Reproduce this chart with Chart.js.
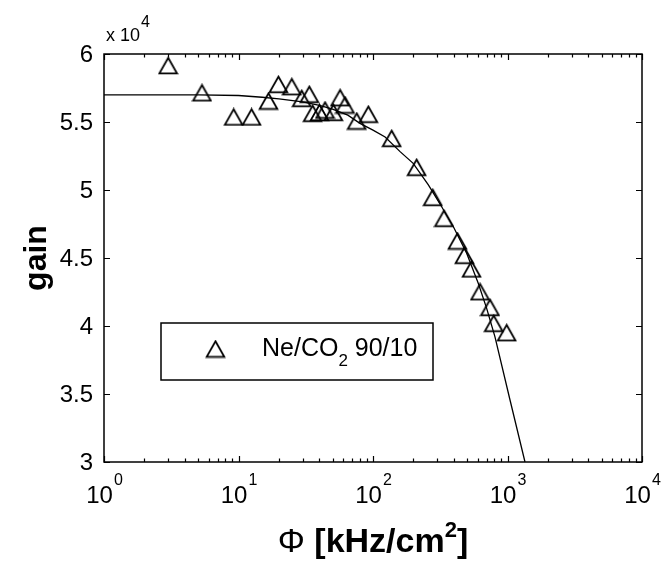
<!DOCTYPE html>
<html>
<head>
<meta charset="utf-8">
<script src="https://cdn.jsdelivr.net/npm/chart.js@4"></script>
<style>
  html, body { margin: 0; padding: 0; background: #fff; }
  #wrap { width: 663px; height: 564px; position: relative; }
</style>
</head>
<body>
<div id="wrap"><canvas id="gainChart" width="663" height="564"></canvas></div>
<script>
// Data (gain in units of 1e4, flux in kHz/cm2)
const markerPhi  = [3.0, 5.35, 9.2, 12.5, 16.7, 19.8, 24.9, 29.5, 33.6, 35.6, 40, 44, 50.7, 56.9, 61.9, 75.7, 92.3,
                    137.7, 211, 278, 337, 424, 478, 540, 625, 741, 790, 986];
const markerGain = [5.915, 5.715, 5.537, 5.537, 5.654, 5.777, 5.760, 5.674, 5.704, 5.564, 5.57, 5.588, 5.571, 5.679, 5.625, 5.507, 5.557,
                    5.380, 5.167, 4.946, 4.792, 4.625, 4.52, 4.42, 4.252, 4.137, 4.02, 3.951];
const curvePhi  = [1, 5, 10, 15, 20, 30, 40, 50, 65, 80, 100, 123, 159, 199, 258, 324, 396, 497, 606, 700, 807, 1044, 1349];
const curveGain = [5.700, 5.699, 5.695, 5.682, 5.670, 5.648, 5.622, 5.595, 5.55, 5.49, 5.44, 5.39, 5.282, 5.196, 5.037, 4.877, 4.730, 4.535, 4.314, 4.13, 3.92, 3.456, 3.0];

const xTickValues = [1, 10, 100, 1000, 10000];
const xTickExps   = ['0', '1', '2', '3', '4'];
const yTickValues = [3, 3.5, 4, 4.5, 5, 5.5, 6];
const yTickLabels = ['3', '3.5', '4', '4.5', '5', '5.5', '6'];
const legendLabel = 'Ne/CO';

const FONT = '"Liberation Sans", Arial, Helvetica, sans-serif';

// hollow triangle marker, centred on its bounding box like matlab '^'
const tri = document.createElement('canvas');
tri.width = 21; tri.height = 19;
(function () {
    const c = tri.getContext('2d');
    c.strokeStyle = '#000';
    c.lineWidth = 1.8;
    c.lineJoin = 'miter';
    c.beginPath();
    c.moveTo(10.5, 1.8);
    c.lineTo(19.3, 17.3);
    c.lineTo(1.7, 17.3);
    c.closePath();
    c.stroke();
})();

// axes box, inward ticks and all the text
const matlabAxes = {
    id: 'matlabAxes',
    afterDraw(chart) {
        const { ctx, chartArea: a, scales: { x, y } } = chart;
        ctx.save();
        ctx.strokeStyle = '#000';
        ctx.fillStyle = '#000';

        // frame
        ctx.lineWidth = 1.5;
        ctx.strokeRect(a.left, a.top, a.right - a.left, a.bottom - a.top);

        // x ticks (major + minor), bottom and top
        ctx.lineWidth = 1.2;
        ctx.beginPath();
        for (let d = 0; d < xTickValues.length; d++) {
            const base = xTickValues[d];
            for (let m = 1; m <= 9; m++) {
                const v = base * m;
                if (v > x.max) break;
                const px = Math.round(x.getPixelForValue(v)) + 0.5;
                const len = m === 1 ? 6 : 3.5;
                ctx.moveTo(px, a.bottom); ctx.lineTo(px, a.bottom - len);
                ctx.moveTo(px, a.top); ctx.lineTo(px, a.top + len);
            }
        }
        // y ticks, left and right
        yTickValues.forEach(v => {
            const py = Math.round(y.getPixelForValue(v)) + 0.5;
            ctx.moveTo(a.left, py); ctx.lineTo(a.left + 6, py);
            ctx.moveTo(a.right, py); ctx.lineTo(a.right - 6, py);
        });
        ctx.stroke();

        // y tick labels
        ctx.font = '24px ' + FONT;
        ctx.textAlign = 'right';
        ctx.textBaseline = 'middle';
        yTickValues.forEach((v, i) => {
            ctx.fillText(yTickLabels[i], a.left - 11, y.getPixelForValue(v) + 1);
        });

        // x tick labels 10^n
        ctx.textBaseline = 'alphabetic';
        ctx.textAlign = 'left';
        xTickValues.forEach((v, i) => {
            const px = x.getPixelForValue(v);
            ctx.font = '24px ' + FONT;
            const wBase = ctx.measureText('10').width;
            ctx.font = '16px ' + FONT;
            const wExp = ctx.measureText(xTickExps[i]).width;
            const left = px - (wBase + wExp) / 2;
            ctx.font = '24px ' + FONT;
            ctx.fillText('10', left, 503);
            ctx.font = '16px ' + FONT;
            ctx.fillText(xTickExps[i], left + wBase + 1, 485);
        });

        // exponent label above the y axis
        ctx.font = '18px ' + FONT;
        ctx.fillText('x 10', a.left + 2, 41);
        const wx = ctx.measureText('x 10').width;
        ctx.font = '16px ' + FONT;
        ctx.fillText('4', a.left + 3 + wx, 27);

        // y title
        ctx.save();
        ctx.translate(46, 258);
        ctx.rotate(-Math.PI / 2);
        ctx.font = 'bold 32px ' + FONT;
        ctx.textAlign = 'center';
        ctx.fillText('gain', 0, 0);
        ctx.restore();

        // x title: Φ [kHz/cm2]
        ctx.font = '34px ' + FONT;
        const wPhi = ctx.measureText('\u03A6 ').width;
        ctx.font = 'bold 34px ' + FONT;
        const wMid = ctx.measureText('[kHz/cm').width;
        ctx.font = 'bold 22px ' + FONT;
        const wSup = ctx.measureText('2').width;
        ctx.font = 'bold 34px ' + FONT;
        const wEnd = ctx.measureText(']').width;
        let tx = (a.left + a.right) / 2 - (wPhi + wMid + wSup + wEnd) / 2;
        ctx.font = '34px ' + FONT;
        ctx.fillText('\u03A6 ', tx, 552); tx += wPhi;
        ctx.font = 'bold 34px ' + FONT;
        ctx.fillText('[kHz/cm', tx, 552); tx += wMid;
        ctx.font = 'bold 22px ' + FONT;
        ctx.fillText('2', tx, 537); tx += wSup;
        ctx.font = 'bold 34px ' + FONT;
        ctx.fillText(']', tx, 552);

        // legend box
        ctx.lineWidth = 1.5;
        ctx.fillStyle = '#fff';
        ctx.fillRect(161, 323, 272, 57);
        ctx.strokeRect(161, 323, 272, 57);
        ctx.drawImage(tri, 215.5 - tri.width / 2, 349 - tri.height / 2);
        ctx.fillStyle = '#000';
        ctx.font = '25px ' + FONT;
        ctx.fillText(legendLabel, 262, 356);
        let lx = 262 + ctx.measureText(legendLabel).width;
        ctx.font = '17px ' + FONT;
        ctx.fillText('2', lx, 366);
        lx += ctx.measureText('2').width;
        ctx.font = '25px ' + FONT;
        ctx.fillText(' 90/10', lx, 356);

        ctx.restore();
    }
};

const ctx = document.getElementById('gainChart').getContext('2d');
new Chart(ctx, {
    type: 'scatter',
    data: {
        datasets: [
            {
                label: 'fit',
                data: curvePhi.map((p, i) => ({ x: p, y: curveGain[i] })),
                showLine: true,
                borderColor: '#000',
                borderWidth: 1.3,
                pointRadius: 0,
                fill: false
            },
            {
                label: 'Ne/CO2 90/10',
                data: markerPhi.map((p, i) => ({ x: p, y: markerGain[i] })),
                pointStyle: tri,
                pointRadius: 9,
                showLine: false
            }
        ]
    },
    options: {
        responsive: false,
        animation: false,
        layout: { padding: { left: 104, right: 21, top: 54, bottom: 102 } },
        scales: {
            x: { type: 'logarithmic', min: 1, max: 10000, display: false },
            y: { type: 'linear', min: 3, max: 6, display: false }
        },
        plugins: { legend: { display: false }, tooltip: { enabled: false } }
    },
    plugins: [matlabAxes]
});
</script>
</body>
</html>
